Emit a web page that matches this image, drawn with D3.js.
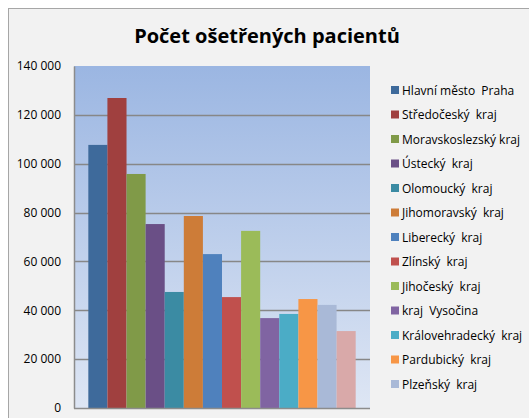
<!DOCTYPE html>
<html>
<head>
<meta charset="utf-8">
<script src="https://cdn.jsdelivr.net/npm/d3@7"></script>
<style>
  html, body { margin: 0; padding: 0; background: #fff; }
  svg { display: block; }
  text { font-family: "Open Sans", "Noto Sans", sans-serif; fill: #000; }
</style>
</head>
<body>
<div id="chart"></div>
<script>
// Počet ošetřených pacientů - one category, a bar per region
const regions = [
    "Hlavní město  Praha", "Středočeský  kraj", "Moravskoslezský kraj", "Ústecký  kraj",
    "Olomoucký  kraj", "Jihomoravský  kraj", "Liberecký  kraj", "Zlínský  kraj",
    "Jihočeský  kraj", "kraj  Vysočina", "Královehradecký  kraj", "Pardubický  kraj",
    "Plzeňský  kraj", "Karlovarský  kraj"
];
const patients = [107700, 126900, 95800, 75300, 47500, 78600, 63000, 45400, 72500, 36800, 38500, 44600, 42200, 31500];
const colors = [
    "#3e6a9b", "#a0403f", "#809a48", "#6a4f86", "#3b8ba3", "#cd7c38", "#4f81bd",
    "#c0504d", "#9bbb59", "#8064a2", "#4bacc6", "#f79646", "#a9b9d7", "#d9a9a9"
];
const yTicks = [0, 20000, 40000, 60000, 80000, 100000, 120000, 140000];

const W = 529, H = 418;
const plot = { left: 74, right: 370, top: 66, bottom: 408 };
const legendRows = 13; // the last region does not fit in the legend box

const svg = d3.select("#chart").append("svg")
    .attr("width", W)
    .attr("height", H);

// chart area frame
svg.append("rect")
    .attr("x", 8.5).attr("y", 8.5)
    .attr("width", W).attr("height", H)
    .attr("fill", "#f2f2f2")
    .attr("stroke", "#a6a6a6");

// title
svg.append("text")
    .attr("x", 267).attr("y", 43)
    .attr("text-anchor", "middle")
    .style("font-size", "20px")
    .style("font-weight", "bold")
    .text("Počet ošetřených pacientů");

// plot background gradient
const grad = svg.append("defs").append("linearGradient")
    .attr("id", "bg").attr("x1", 0).attr("y1", 0).attr("x2", 0).attr("y2", 1);
grad.append("stop").attr("offset", "0%").attr("stop-color", "#9bb6e2");
grad.append("stop").attr("offset", "100%").attr("stop-color", "#dee6f4");

svg.append("rect")
    .attr("x", plot.left).attr("y", plot.top)
    .attr("width", plot.right - plot.left).attr("height", plot.bottom - plot.top)
    .attr("fill", "url(#bg)");

const y = d3.scaleLinear()
    .domain([0, 140000])
    .range([plot.bottom, plot.top]);

const x = d3.scaleBand()
    .domain(regions)
    .range([plot.left, plot.right])
    .paddingInner(0)
    .paddingOuter(0.75);

// gridlines
svg.selectAll(".grid")
    .data(yTicks.filter(t => t > 0 && t < 140000))
    .enter()
    .append("line")
    .attr("x1", plot.left).attr("x2", plot.right)
    .attr("y1", d => Math.round(y(d)) + 0.5)
    .attr("y2", d => Math.round(y(d)) + 0.5)
    .attr("stroke", "#878787")
    .attr("stroke-width", 1.5);

// bars
svg.selectAll(".bar")
    .data(patients)
    .enter()
    .append("rect")
    .attr("x", (d, i) => x(regions[i]))
    .attr("y", d => y(d))
    .attr("width", x.bandwidth())
    .attr("height", d => plot.bottom - y(d))
    .attr("fill", (d, i) => colors[i]);

// y axis
const fmt = d3.formatLocale({ decimal: ",", thousands: "\u00a0", grouping: [3], currency: ["", ""] }).format(",d");
const yAxis = svg.append("g")
    .attr("transform", `translate(${plot.left},0)`)
    .call(d3.axisLeft(y).tickValues(yTicks).tickSize(0).tickPadding(13).tickFormat(fmt));
yAxis.select(".domain").attr("stroke", "#8c8c8c").attr("stroke-width", 1.5);
yAxis.selectAll("text")
    .style("font-size", "12px")
    .style("font-family", "\"Open Sans\", sans-serif");

// bottom axis line
svg.append("line")
    .attr("x1", plot.left).attr("x2", plot.right)
    .attr("y1", plot.bottom + 0.5).attr("y2", plot.bottom + 0.5)
    .attr("stroke", "#8c8c8c")
    .attr("stroke-width", 1.5);

// legend
const legend = svg.selectAll(".legend")
    .data(regions.slice(0, legendRows))
    .enter()
    .append("g")
    .attr("transform", (d, i) => `translate(391,${90 + i * 24.5})`);

legend.append("rect")
    .attr("x", 0).attr("y", -4)
    .attr("width", 8).attr("height", 8)
    .attr("fill", (d, i) => colors[i]);

legend.append("text")
    .attr("x", 11).attr("y", 4.5)
    .style("font-size", "12px")
    .style("white-space", "pre")
    .text(d => d);
</script>
</body>
</html>
